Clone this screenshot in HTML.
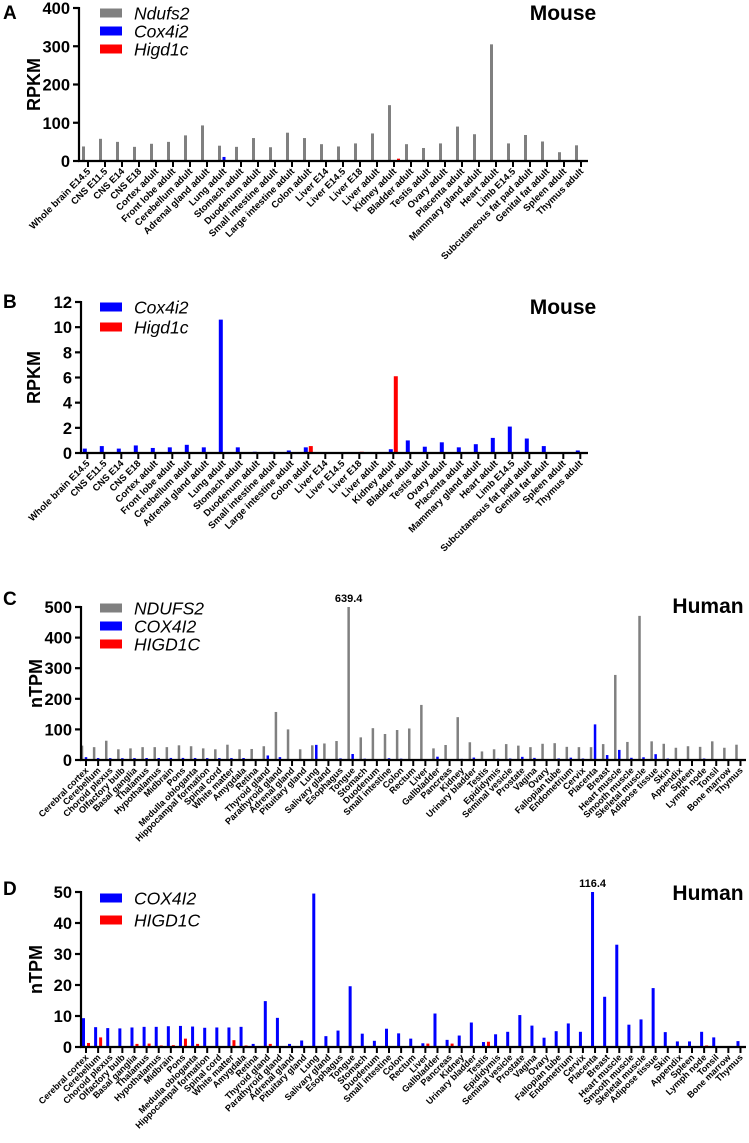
<!DOCTYPE html>
<html><head><meta charset="utf-8"><style>
body{margin:0;background:#fff}
svg{display:block;font-family:"Liberation Sans",Arial,sans-serif}
</style></head><body>
<svg id="fig" width="749" height="1143" viewBox="0 0 749 1143"></svg>
<script>
const mouseCategories=["Whole brain E14.5","CNS E11.5","CNS E14","CNS E18","Cortex adult","Front lobe adult","Cerebellum adult","Adrenal gland adult","Lung adult","Stomach adult","Duodenum adult","Small intestine adult","Large intestine adult","Colon adult","Liver E14","Liver E14.5","Liver E18","Liver adult","Kidney adult","Bladder adult","Testis adult","Ovary adult","Placenta adult","Mammary gland adult","Heart adult","Limb E14.5","Subcutaneous fat pad adult","Genital fat adult","Spleen adult","Thymus adult"];
const mouseNdufs2=[38,58,50,37,45,50,67,93,40,37,60,36,74,60,44,38,46,72,146,44,34,46,90,70,305,46,68,51,23,41];
const mouseCox4i2=[0.35,0.55,0.35,0.6,0.4,0.45,0.65,0.45,10.6,0.45,0.1,0.1,0.2,0.45,0.05,0.05,0.05,0.0,0.3,1.0,0.5,0.85,0.45,0.7,1.2,2.1,1.15,0.55,0.0,0.2];
const mouseHigd1c=[0,0,0,0,0,0,0,0,0,0,0,0,0,0.55,0,0,0.1,0,6.1,0,0,0,0,0,0,0,0,0,0,0];
const humanCategories=["Cerebral cortex","Cerebellum","Choroid plexus","Olfactory bulb","Basal ganglia","Thalamus","Hypothalamus","Midbrain","Pons","Medulla obloganta","Hippocampal formation","Spinal cord","White matter","Amygdala","Retina","Thyroid gland","Parathyroid gland","Adrenal gland","Pituitary gland","Lung","Salivary gland","Esophagus","Tongue","Stomach","Duodenum","Small intestine","Colon","Rectum","Liver","Gallbladder","Pancreas","Kidney","Urinary bladder","Testis","Epididymis","Seminal vesicle","Prostate","Vagina","Ovary","Fallopian tube","Endometrium","Cervix","Placenta","Breast","Heart muscle","Smooth muscle","Skeletal muscle","Adipose tissue","Skin","Appendix","Spleen","Lymph node","Tonsil","Bone marrow","Thymus"];
const humanNDUFS2=[47,42,63,35,38,42,42,42,48,45,38,35,50,35,36,45,157,100,35,48,54,62,639.4,74,104,85,98,103,180,38,49,140,58,28,35,52,47,42,53,55,43,42,42,52,278,59,471,61,53,40,45,43,61,40,50];
const humanCOX4I2=[9.3,6.4,6.1,6.0,6.3,6.5,6.5,6.7,6.8,6.6,6.2,6.3,6.3,6.5,1.0,14.8,9.4,1.0,2.1,49.5,3.5,5.3,19.6,4.3,2.0,5.9,4.4,2.7,1.2,10.8,2.3,3.7,7.9,1.6,4.1,4.9,10.3,6.9,3.0,5.1,7.6,4.9,116.4,16.2,33.0,7.2,8.9,19.0,4.8,1.8,1.8,4.9,3.1,0,1.9];
const humanHIGD1C=[1.3,3.1,0.3,0,1.0,1.1,0.5,0.6,2.7,1.0,0.3,0.3,2.2,0.5,0,1.0,0.3,0,0,0.3,0,0,0,0.3,0,0,0,0,1.1,0,1.1,0,0,1.7,0,0,0,0,0,0,0,0,0,0,0,0,0,0,0.3,0,0,0.5,0,0,0];
const ticksA=[0,100,200,300,400];
const ticksB=[0,2,4,6,8,10,12];
const ticksC=[0,100,200,300,400,500];
const ticksD=[0,10,20,30,40,50];

const NS="http://www.w3.org/2000/svg";
const svg=document.getElementById('fig');
function mk(tag,attrs,parent,text){const e=document.createElementNS(NS,tag);for(const k in attrs)e.setAttribute(k,attrs[k]);if(text!==undefined)e.textContent=text;(parent||svg).appendChild(e);return e;}

function panel(cfg){
  const g=mk('g',{});
  
  
  const yS=v=>cfg.y0-(Math.min(v,cfg.max)/cfg.max)*(cfg.y0-cfg.yTop);
  const xS=i=>cfg.x0+i*cfg.dx;
  const L=mk('text',{x:3,y:cfg.letterY,'font-size':19,'font-weight':'bold'},g,cfg.letter);
  
  
  const T=mk('text',{x:cfg.titleX,y:cfg.titleY,'font-size':21,'font-weight':'bold','text-anchor':'middle'},g,cfg.title);
  
  
  const yt=mk('text',{x:0,y:0,'font-size':18,'font-weight':'bold','text-anchor':'middle',transform:`translate(${cfg.ytX},${(cfg.y0+cfg.yTop)/2}) rotate(-90)`},g,cfg.yTitle);
  
  
  cfg.series.forEach((s,si)=>{
    s.vals.forEach((v,i)=>{
      if(v<=0)return;
      const y=yS(v);
      const b=mk('rect',{x:xS(i)+s.off-cfg.bw/2,y:y,width:cfg.bw,height:cfg.y0-y,fill:s.color},g);
      
      
    });
  });
  const ya=mk('line',{x1:cfg.axX,y1:cfg.yTop-1,x2:cfg.axX,y2:cfg.y0+1,stroke:'#000','stroke-width':2.2},g);
  
  
  const xa=mk('line',{x1:cfg.axX-1,y1:cfg.y0,x2:cfg.axEnd,y2:cfg.y0,stroke:'#000','stroke-width':2.2},g);
  
  
  cfg.ticks.forEach(t=>{
    const y=yS(t);
    mk('line',{x1:cfg.axX-6,y1:y,x2:cfg.axX,y2:y,stroke:'#000','stroke-width':2.2},g);
    const tl=mk('text',{x:cfg.axX-9,y:y+6,'font-size':16.5,'font-weight':'bold','text-anchor':'end'},g,String(t));
    
    
  });
  cfg.cats.forEach((c,i)=>{
    const x=xS(i);
    mk('line',{x1:x,y1:cfg.y0,x2:x,y2:cfg.y0+6,stroke:'#000','stroke-width':2},g);
    const tx=x+3, ty=cfg.y0+11;
    const lab=mk('text',{x:tx,y:ty,'font-size':cfg.lfs,'font-weight':'bold','text-anchor':'end',transform:`rotate(-45 ${tx} ${ty})`},g,c);
    
    
  });
  cfg.legend.forEach((s,k)=>{
    const y=cfg.legY+k*cfg.legDy;
    const sw=mk('rect',{x:100,y:y-4.5,width:22,height:9,fill:s.color},g);
    
    
    const lt=mk('text',{x:134,y:y+6.5,'font-size':17.5,'font-style':'italic'},g,s.name);
    
    
  });
  cfg.series.forEach(s=>{
    s.vals.forEach((v,i)=>{
      if(v>cfg.max){
        const a=mk('text',{x:xS(i)+s.off,y:cfg.yTop-5,'font-size':11,'font-weight':'bold','text-anchor':'middle'},g,String(v));
        
        
      }
    });
  });
}

panel({letter:'A',letterY:19,title:'Mouse',titleX:563,titleY:20,yTitle:'RPKM',ytX:40,
  y0:161,yTop:8,max:400,ticks:ticksA,axX:79,axEnd:588,x0:88,dx:17,bw:3,lfs:9.5,cats:mouseCategories,
  series:[{name:'Ndufs2',vals:mouseNdufs2,color:'#808080',off:-4.5},{name:'Cox4i2',vals:mouseCox4i2,color:'#0000ff',off:0},{name:'Higd1c',vals:mouseHigd1c,color:'#ff0000',off:4.5}],
  legend:[{name:'Ndufs2',color:'#808080'},{name:'Cox4i2',color:'#0000ff'},{name:'Higd1c',color:'#ff0000'}],legY:13,legDy:18});
panel({letter:'B',letterY:308,title:'Mouse',titleX:563,titleY:314,yTitle:'RPKM',ytX:40,
  y0:453,yTop:302,max:12,ticks:ticksB,axX:81,axEnd:588,x0:87.3,dx:17,bw:4,lfs:9.5,cats:mouseCategories,
  series:[{name:'Cox4i2',vals:mouseCox4i2,color:'#0000ff',off:-2.5},{name:'Higd1c',vals:mouseHigd1c,color:'#ff0000',off:2.5}],
  legend:[{name:'Cox4i2',color:'#0000ff'},{name:'Higd1c',color:'#ff0000'}],legY:307,legDy:20});
panel({letter:'C',letterY:605,title:'Human',titleX:708,titleY:613,yTitle:'nTPM',ytX:42,
  y0:760,yTop:607,max:500,ticks:ticksC,axX:81,axEnd:746,x0:86,dx:12.12,bw:2.5,lfs:9,cats:humanCategories,
  series:[{name:'NDUFS2',vals:humanNDUFS2,color:'#808080',off:-4},{name:'COX4I2',vals:humanCOX4I2,color:'#0000ff',off:0},{name:'HIGD1C',vals:humanHIGD1C,color:'#ff0000',off:4}],
  legend:[{name:'NDUFS2',color:'#808080'},{name:'COX4I2',color:'#0000ff'},{name:'HIGD1C',color:'#ff0000'}],legY:608,legDy:18});
panel({letter:'D',letterY:895,title:'Human',titleX:708,titleY:900,yTitle:'nTPM',ytX:42,
  y0:1047,yTop:892,max:50,ticks:ticksD,axX:81,axEnd:746,x0:86,dx:12.12,bw:3,lfs:9,cats:humanCategories,
  series:[{name:'COX4I2',vals:humanCOX4I2,color:'#0000ff',off:-2.5},{name:'HIGD1C',vals:humanHIGD1C,color:'#ff0000',off:2.5}],
  legend:[{name:'COX4I2',color:'#0000ff'},{name:'HIGD1C',color:'#ff0000'}],legY:898,legDy:22});
</script>
</body></html>
